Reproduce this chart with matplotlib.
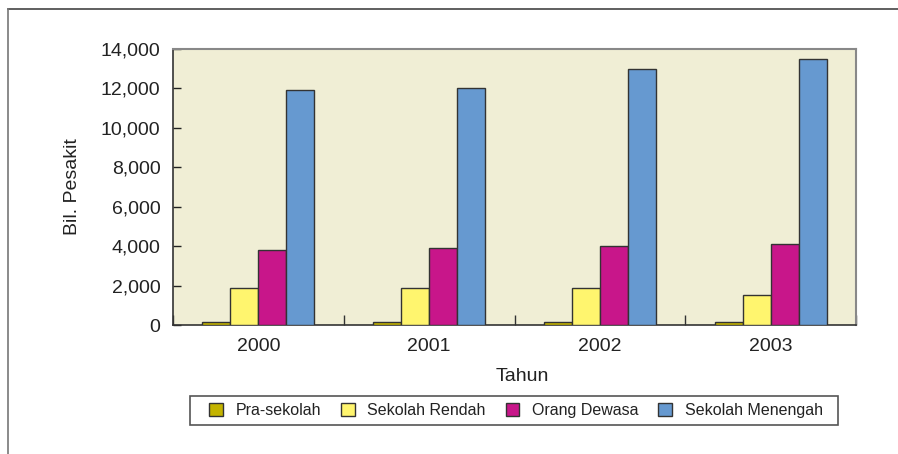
import numpy as np
import matplotlib
matplotlib.use("Agg")
import matplotlib.pyplot as plt
from matplotlib.lines import Line2D
from matplotlib.patches import Rectangle
from matplotlib.ticker import FuncFormatter, FixedLocator

plt.rcParams['font.family'] = ['Liberation Sans', 'DejaVu Sans']

# Patient counts per year and group
years = ['2000', '2001', '2002', '2003']
groups = ['Pra-sekolah', 'Sekolah Rendah', 'Orang Dewasa', 'Sekolah Menengah']
pra_sekolah = [150, 150, 150, 150]
sekolah_rendah = [1900, 1900, 1900, 1500]
orang_dewasa = [3800, 3900, 4000, 4100]
sekolah_menengah = [11900, 12000, 13000, 13500]

series = [pra_sekolah, sekolah_rendah, orang_dewasa, sekolah_menengah]
colors = ['#C4B400', '#FFF56E', '#C8168A', '#6699D0']

W, H = 898, 454
fig = plt.figure(figsize=(W / 100, H / 100), dpi=100)
ax = fig.add_axes([0.1927, 0.2841, 0.7605, 0.608])
ax.set_facecolor('#F0EED5')

x = np.arange(len(years))
w = 0.164
for i, (vals, col, name) in enumerate(zip(series, colors, groups)):
    ax.bar(x + (i - 1.5) * w, vals, w, color=col, edgecolor='#333333',
           linewidth=1.0, label=name, zorder=3)

ax.set_xlim(-0.5, 3.5)
ax.set_ylim(0, 14000)
ax.set_yticks(np.arange(0, 14001, 2000))
ax.yaxis.set_major_formatter(FuncFormatter(lambda v, p: f'{int(v):,}'))
ax.set_xticks(x)
ax.set_xticklabels(years)
ax.xaxis.set_minor_locator(FixedLocator([-0.5, 0.5, 1.5, 2.5, 3.5]))

ax.tick_params(axis='x', which='major', length=0, pad=9, labelsize=14, colors='#222222')
ax.tick_params(axis='x', which='minor', direction='in', length=7, width=1, color='#333333')
ax.tick_params(axis='y', direction='in', length=6, width=1, pad=9, labelsize=14,
               colors='#222222')

for side in ['top', 'right']:
    ax.spines[side].set_color('#888888')
    ax.spines[side].set_linewidth(1.5)
for side in ['left', 'bottom']:
    ax.spines[side].set_color('#333333')
    ax.spines[side].set_linewidth(1.2)

ax.set_xlabel('Tahun', fontsize=14, color='#222222')
ax.xaxis.set_label_coords(0.512, -0.155)
ax.set_ylabel('Bil. Pesakit', fontsize=14, color='#222222', labelpad=14)

# Legend entries without frame; the box is drawn separately
leg = fig.legend(loc='center', bbox_to_anchor=(516 / W, 1 - 410.5 / H), ncol=4,
                 fontsize=11.5, frameon=False, borderpad=0.0,
                 handlelength=0.85, handleheight=0.85, handletextpad=0.8,
                 columnspacing=1.25)
for t in leg.get_texts():
    t.set_color('#222222')
fig.add_artist(Rectangle((190 / W, 1 - 425 / H), 648 / W, 29 / H,
                         transform=fig.transFigure, facecolor='none',
                         edgecolor='#555555', linewidth=1.2))

# Partial outer frame: top and left edges
fig.add_artist(Line2D([8 / W, 1.0], [1 - 9 / H, 1 - 9 / H],
                      transform=fig.transFigure, color='#444444', linewidth=1.2))
fig.add_artist(Line2D([8 / W, 8 / W], [0.0, 1 - 9 / H],
                      transform=fig.transFigure, color='#777777', linewidth=1.2))

fig.savefig('out.png', dpi=100)
